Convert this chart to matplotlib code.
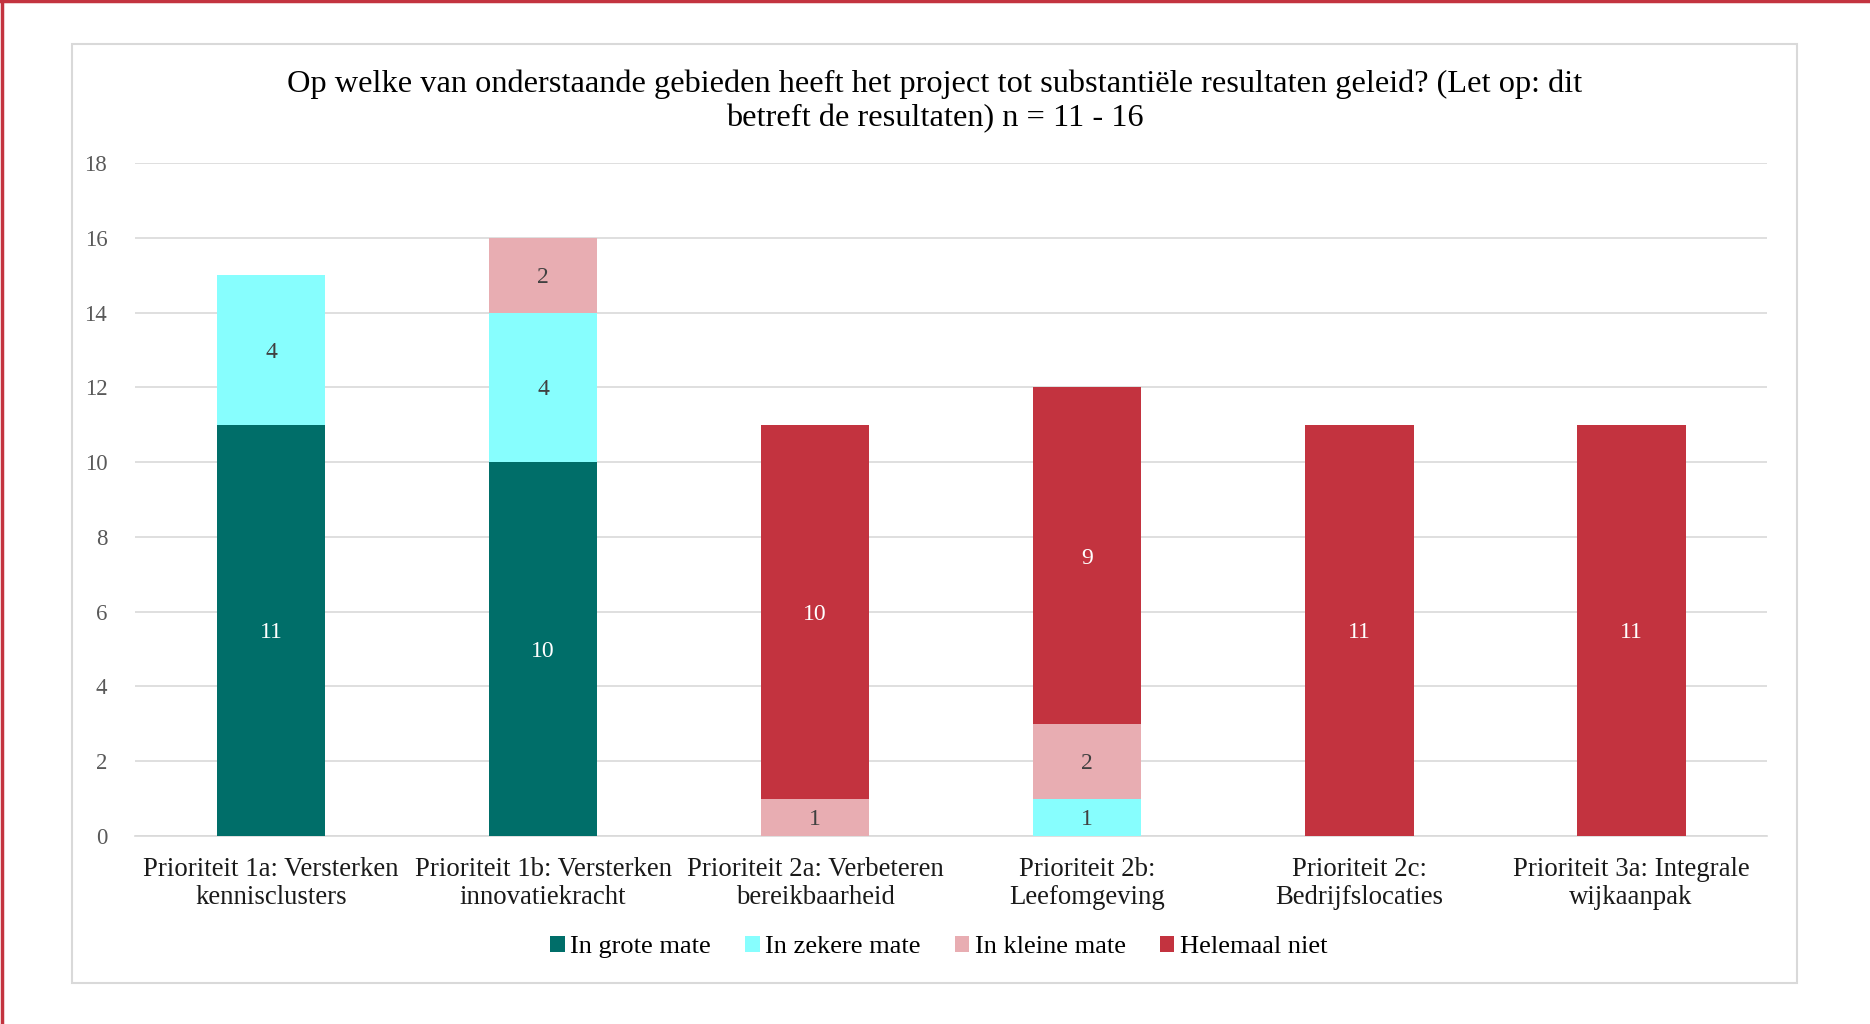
import numpy as np
import matplotlib.pyplot as plt
from matplotlib.patches import Rectangle
from matplotlib.lines import Line2D

plt.rcParams['font.family'] = ['Liberation Serif', 'DejaVu Serif']

categorieen = [
    "Prioriteit 1a: Versterken\nkennisclusters",
    "Prioriteit 1b: Versterken\ninnovatiekracht",
    "Prioriteit 2a: Verbeteren\nbereikbaarheid",
    "Prioriteit 2b:\nLeefomgeving",
    "Prioriteit 2c:\nBedrijfslocaties",
    "Prioriteit 3a: Integrale\nwijkaanpak",
]
grote_mate = [11, 10, 0, 0, 0, 0]
zekere_mate = [4, 4, 0, 1, 0, 0]
kleine_mate = [0, 2, 1, 2, 0, 0]
helemaal_niet = [0, 0, 10, 9, 11, 11]

reeksen = [
    ("In grote mate", grote_mate, "#006E69", "white"),
    ("In zekere mate", zekere_mate, "#87FEFE", "#404040"),
    ("In kleine mate", kleine_mate, "#E8ADB2", "#404040"),
    ("Helemaal niet", helemaal_niet, "#C3333F", "white"),
]

titel = ("Op welke van onderstaande gebieden heeft het project tot substantiële resultaten geleid? (Let op: dit\n"
         "betreft de resultaten) n = 11 - 16")

fig = plt.figure(figsize=(18.7, 10.24), dpi=100)

# rode rand boven en links
fig.add_artist(Line2D([0, 1], [0.999, 0.999], color="#C3333F", lw=2.5, transform=fig.transFigure))
fig.add_artist(Line2D([0.001, 0.001], [0, 1], color="#C3333F", lw=2.5, transform=fig.transFigure))

# grijze kader rond de grafiek
fig.add_artist(Rectangle((0.0385, 0.040), 0.9225, 0.917, transform=fig.transFigure,
                         fill=False, edgecolor="#D9D9D9", lw=1.5))

ax = fig.add_axes([0.0722, 0.1836, 0.8728, 0.6572])
x = np.arange(len(categorieen))
onder = np.zeros(len(categorieen))
for naam, waarden, kleur, tekstkleur in reeksen:
    waarden = np.array(waarden, dtype=float)
    ax.bar(x, waarden, 0.4, bottom=onder, color=kleur, label=naam, zorder=3)
    for xi, b, w in zip(x, onder, waarden):
        if w > 0:
            ax.text(xi, b + w / 2, f"{int(w)}", ha="center", va="center_baseline",
                    fontsize=17, color=tekstkleur, zorder=4)
    onder += waarden

ax.set_xlim(-0.5, len(categorieen) - 0.5)
ax.set_ylim(0, 18)
ax.set_yticks(range(0, 19, 2))
ax.set_xticks(x)
ax.set_xticklabels(categorieen, fontsize=19.3, color="#1a1a1a", linespacing=1.18)
ax.tick_params(axis="y", length=0, labelsize=16.5, labelcolor="#595959", pad=20)
ax.tick_params(axis="x", length=0, pad=15)
ax.grid(axis="y", color="#D9D9D9", lw=1.2, zorder=0)
for kant in ["top", "right", "left"]:
    ax.spines[kant].set_visible(False)
ax.spines["bottom"].set_color("#D9D9D9")
ax.spines["bottom"].set_linewidth(1.2)

fig.text(0.5, 0.901, titel, ha="center", va="center", fontsize=23.3, color="black", linespacing=1.2)

fig.legend(loc="center", bbox_to_anchor=(0.502, 0.075), ncol=4, frameon=False,
           fontsize=19, handlelength=0.55, handleheight=0.55, handletextpad=0.2, columnspacing=1.3)

fig.savefig("out.png", dpi=100, facecolor="white")
